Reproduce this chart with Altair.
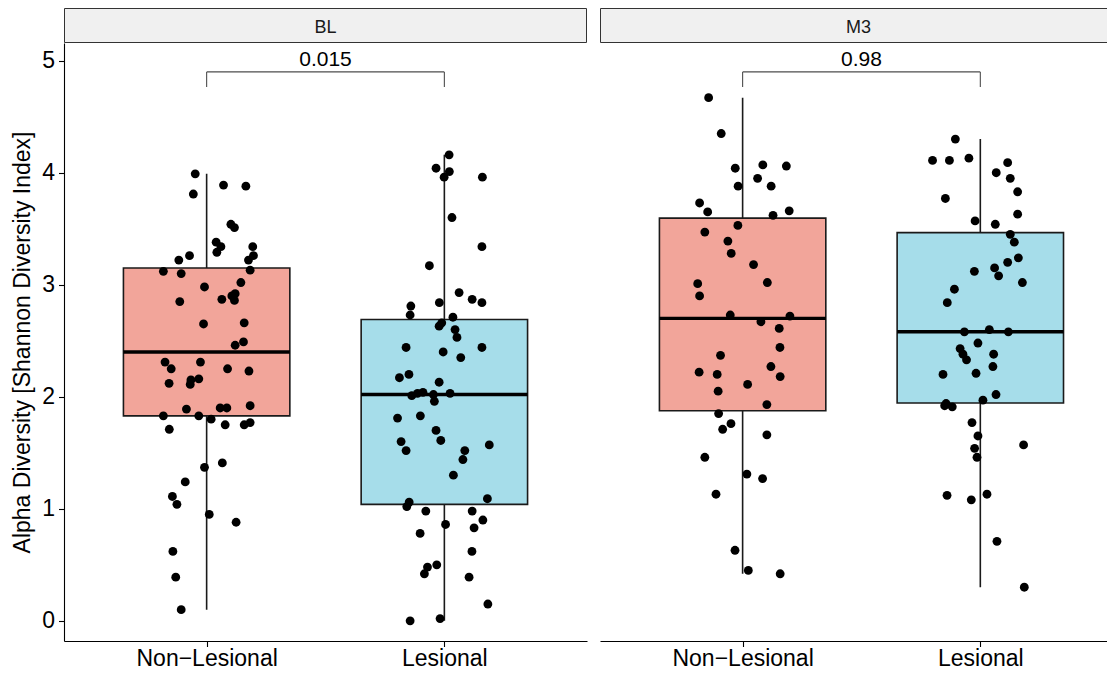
import altair as alt
import pandas as pd

FONT = "Liberation Sans"

TIMEPOINTS = ["BL", "M3"]
GROUPS = ["Non\u2212Lesional", "Lesional"]
GROUP_POS = [1, 2]
FILLS = ["#F2A59A", "#A6DDEA"]
P_VALUES = ["0.015", "0.98"]
Y_TICKS = [0, 1, 2, 3, 4, 5]

# ---- jittered sample values ----
BL_NL_VALUE = [3.99, 3.89, 3.88, 3.81, 3.54, 3.51, 3.38, 3.34, 3.29, 3.34,
               3.26, 3.22, 3.26, 3.22, 3.12, 3.10, 3.13, 3.02, 2.98, 2.92,
               2.90, 2.87, 2.86, 2.85, 2.65, 2.66, 2.49, 2.46, 2.31, 2.25,
               2.31, 2.25, 2.23, 2.12, 2.15, 2.16, 2.11, 1.83, 1.89, 1.83,
               1.80, 1.90, 1.90, 1.92, 1.71, 1.75, 1.75, 1.77, 1.37, 1.41,
               1.24, 1.11, 1.04, 0.95, 0.88, 0.62, 0.39, 0.10]
BL_NL_JITTER = [-0.048, 0.071, 0.165, -0.056, 0.102, 0.117, 0.040, 0.060, 0.043, 0.194,
                0.197, 0.176, -0.072, -0.117, -0.182, -0.107, 0.183, 0.144, -0.009, 0.120,
                0.106, 0.064, 0.117, -0.113, -0.013, 0.158, 0.155, 0.120, -0.175, -0.149,
                -0.026, 0.088, 0.178, -0.158, -0.066, -0.033, -0.069, -0.182, -0.085, -0.033,
                0.019, 0.057, 0.085, 0.183, -0.157, 0.078, 0.158, 0.183, -0.009, 0.066,
                -0.090, -0.144, -0.125, 0.011, 0.124, -0.142, -0.130, -0.107]

BL_L_VALUE = [4.16, 4.04, 4.01, 3.96, 3.96, 3.60, 3.34, 3.17, 2.93, 2.87,
              2.84, 2.84, 2.81, 2.73, 2.71, 2.66, 2.63, 2.60, 2.53, 2.44,
              2.40, 2.44, 2.35, 2.17, 2.20, 2.13, 2.01, 2.03, 2.04, 2.02,
              1.96, 2.03, 1.81, 1.83, 1.70, 1.61, 1.60, 1.52, 1.52, 1.44,
              1.57, 1.30, 1.06, 1.02, 1.09, 0.98, 0.98, 0.90, 0.83, 0.86,
              0.78, 0.62, 0.48, 0.50, 0.42, 0.39, 0.15, 0.00, 0.02]
BL_L_JITTER = [0.020, -0.035, 0.021, -0.001, 0.160, 0.032, 0.158, -0.063, 0.062, 0.117,
               0.158, -0.021, -0.141, -0.144, 0.036, -0.011, -0.022, 0.045, 0.053, -0.161,
               -0.005, 0.158, 0.069, -0.189, -0.149, -0.022, -0.137, -0.113, -0.090, -0.046,
               -0.042, 0.024, -0.197, -0.101, -0.035, -0.015, -0.182, -0.161, 0.086, 0.078,
               0.189, 0.038, -0.148, -0.158, 0.181, -0.078, 0.117, 0.162, 0.125, 0.005,
               -0.102, 0.116, -0.071, -0.032, -0.084, 0.104, 0.183, -0.144, -0.018]

M3_NL_VALUE = [4.67, 4.35, 4.04, 4.07, 4.06, 3.95, 3.88, 3.88, 3.73, 3.65,
               3.66, 3.62, 3.53, 3.47, 3.39, 3.28, 3.18, 3.01, 3.02, 2.90,
               2.73, 2.72, 2.67, 2.61, 2.44, 2.37, 2.27, 2.22, 2.20, 2.18,
               2.11, 2.05, 1.93, 1.85, 1.76, 1.71, 1.66, 1.46, 1.31, 1.27,
               1.13, 0.63, 0.45, 0.42]
M3_NL_JITTER = [-0.143, -0.090, -0.031, 0.085, 0.184, 0.063, -0.019, 0.120, -0.181, -0.147,
                0.196, 0.128, -0.020, -0.159, -0.062, -0.048, 0.046, -0.189, 0.104, -0.181,
                -0.052, 0.199, 0.077, 0.154, 0.157, -0.093, 0.119, -0.183, -0.107, 0.158,
                0.021, -0.103, 0.102, -0.101, -0.049, -0.084, 0.102, -0.159, 0.018, 0.084,
                -0.112, -0.032, 0.024, 0.158]

M3_L_VALUE = [4.30, 4.11, 4.11, 4.13, 4.09, 4.00, 3.95, 3.83, 3.77, 3.63,
              3.57, 3.54, 3.45, 3.38, 3.24, 3.20, 3.15, 3.08, 3.12, 3.02,
              2.96, 2.84, 2.58, 2.60, 2.58, 2.48, 2.43, 2.38, 2.33, 2.38,
              2.27, 2.20, 2.21, 2.02, 1.97, 1.94, 1.92, 1.91, 1.77, 1.65,
              1.57, 1.54, 1.46, 1.12, 1.08, 1.13, 0.71, 0.30]
M3_L_JITTER = [-0.105, -0.201, -0.130, -0.048, 0.115, 0.067, 0.126, 0.157, -0.147, 0.157,
               -0.022, 0.063, 0.126, 0.143, 0.160, 0.115, 0.060, 0.077, -0.025, 0.177,
               -0.109, -0.139, -0.067, 0.038, 0.118, -0.010, -0.085, -0.073, -0.058, 0.056,
               0.053, -0.157, -0.018, 0.066, 0.011, -0.144, -0.150, -0.118, -0.035, -0.010,
               0.182, -0.024, -0.014, -0.140, -0.038, 0.028, 0.070, 0.185]

# ---- box summaries (BL-NL, BL-L, M3-NL, M3-L) ----
BOX_TIME = ["BL", "BL", "M3", "M3"]
BOX_GROUP = [GROUPS[0], GROUPS[1], GROUPS[0], GROUPS[1]]
BOX_LOWER = [0.10, 0.00, 0.42, 0.30]
BOX_Q1 = [1.83, 1.04, 1.875, 1.945]
BOX_MEDIAN = [2.40, 2.02, 2.70, 2.58]
BOX_Q3 = [3.15, 2.69, 3.595, 3.465]
BOX_UPPER = [3.99, 4.16, 4.67, 4.30]

# ---- significance brackets ----
BRACKET_Y = [4.90, 4.90]
BRACKET_END = [4.765, 4.765]
LABEL_Y = [4.95, 4.95]

# ---- layout / style ----
BOX_HALF = 0.35
Y_DOMAIN = [-0.18, 5.158]
PLOT_H = 598
STRIP_H = 35
WIDTHS = [523, 507]
X_DOMAINS = [[0.4, 2.6], [0.4, 0.4 + 507 / 237.7]]
STRIP_TEXT_X = [261.5, 258.5]
STRIP_OPEN_RIGHT = [False, True]
LABEL_SIZE = 23

# ---- build tables ----
rows = []
for t, g, vals, jit in [("BL", 0, BL_NL_VALUE, BL_NL_JITTER), ("BL", 1, BL_L_VALUE, BL_L_JITTER),
                        ("M3", 0, M3_NL_VALUE, M3_NL_JITTER), ("M3", 1, M3_L_VALUE, M3_L_JITTER)]:
    for v, j in zip(vals, jit):
        rows.append({"time": t, "group": GROUPS[g], "x": GROUP_POS[g] + j, "value": v})
pts = pd.DataFrame(rows)

box = pd.DataFrame({"time": BOX_TIME, "group": BOX_GROUP, "lower": BOX_LOWER, "q1": BOX_Q1,
                    "median": BOX_MEDIAN, "q3": BOX_Q3, "upper": BOX_UPPER})
box["pos"] = box["group"].map(dict(zip(GROUPS, GROUP_POS)))
box["x0"] = box["pos"] - BOX_HALF
box["x1"] = box["pos"] + BOX_HALF

label_expr = f"datum.value == {GROUP_POS[0]} ? '{GROUPS[0]}' : '{GROUPS[1]}'"

color_scale = alt.Scale(domain=GROUPS, range=FILLS)


def panel(i):
    t = TIMEPOINTS[i]
    w = WIDTHS[i]
    xs = alt.Scale(domain=X_DOMAINS[i], nice=False, zero=False)
    ys = alt.Scale(domain=Y_DOMAIN, nice=False, zero=False)
    xa = alt.Axis(values=GROUP_POS, labelExpr=label_expr, title=None, grid=False,
                  domainColor="black", domainWidth=1.1, tickColor="black", tickWidth=1.1,
                  tickSize=5.5, labelFont=FONT, labelFontSize=LABEL_SIZE, labelColor="black",
                  labelPadding=1, labelFlush=False, labelOverlap=False)
    if i == 0:
        ya = alt.Axis(values=Y_TICKS, title="Alpha Diversity [Shannon Diversity Index]",
                      titleFont=FONT, titleFontSize=LABEL_SIZE, titleFontWeight="normal",
                      titleColor="black", titlePadding=7, grid=False,
                      domainColor="black", domainWidth=1.1, tickColor="black",
                      tickWidth=1.1, tickSize=5.5, labelFont=FONT, labelFontSize=LABEL_SIZE,
                      labelColor="black", labelPadding=4, labelFlush=False)
    else:
        ya = None

    bx = box[box["time"] == t]
    pp = pts[pts["time"] == t]

    whisk = alt.Chart(bx).mark_rule(color="#1a1a1a", strokeWidth=1.6).encode(
        x=alt.X("pos:Q", scale=xs, axis=xa),
        y=alt.Y("lower:Q", scale=ys, axis=ya),
        y2="upper:Q")
    rect = alt.Chart(bx).mark_rect(stroke="#1a1a1a", strokeWidth=1.6).encode(
        x=alt.X("x0:Q", scale=xs, axis=xa), x2="x1:Q",
        y=alt.Y("q1:Q", scale=ys, axis=ya), y2="q3:Q",
        fill=alt.Fill("group:N", scale=color_scale, legend=None))
    med = alt.Chart(bx).mark_rule(color="black", strokeWidth=3.4).encode(
        x=alt.X("x0:Q", scale=xs, axis=xa), x2="x1:Q",
        y=alt.Y("median:Q", scale=ys, axis=ya))
    dots = alt.Chart(pp).mark_circle(color="black", size=78, opacity=1).encode(
        x=alt.X("x:Q", scale=xs, axis=xa),
        y=alt.Y("value:Q", scale=ys, axis=ya))

    br = pd.DataFrame({
        "x": [GROUP_POS[0], GROUP_POS[0], GROUP_POS[1]],
        "x2": [GROUP_POS[1], GROUP_POS[0], GROUP_POS[1]],
        "y": [BRACKET_Y[i], BRACKET_END[i], BRACKET_END[i]],
        "y2": [BRACKET_Y[i], BRACKET_Y[i], BRACKET_Y[i]],
    })
    bracket = alt.Chart(br).mark_rule(color="#4d4d4d", strokeWidth=1.1).encode(
        x=alt.X("x:Q", scale=xs, axis=xa), x2="x2:Q",
        y=alt.Y("y:Q", scale=ys, axis=ya), y2="y2:Q")
    lab = pd.DataFrame({"x": [sum(GROUP_POS) / 2], "y": [LABEL_Y[i]], "label": [P_VALUES[i]]})
    ptext = alt.Chart(lab).mark_text(font=FONT, fontSize=21, color="black",
                                     baseline="alphabetic", align="center").encode(
        x=alt.X("x:Q", scale=xs, axis=xa),
        y=alt.Y("y:Q", scale=ys, axis=ya),
        text="label:N")

    main = alt.layer(whisk, rect, med, dots, bracket, ptext).properties(width=w, height=PLOT_H)

    strip_df = pd.DataFrame({"label": [t]})
    right = w + 20 if STRIP_OPEN_RIGHT[i] else w - 0.5
    strip_bg = alt.Chart(strip_df).mark_rect(
        fill="#F0F0F0", stroke="#333333", strokeWidth=1, clip=True).encode(
        x=alt.value(0.5), x2=alt.value(right), y=alt.value(0.5), y2=alt.value(STRIP_H - 0.5))
    strip_txt = alt.Chart(strip_df).mark_text(
        font=FONT, fontSize=18, color="#1a1a1a", baseline="alphabetic", align="center").encode(
        x=alt.value(STRIP_TEXT_X[i]), y=alt.value(25), text="label:N")
    strip = alt.layer(strip_bg, strip_txt).properties(width=w, height=STRIP_H)

    return alt.vconcat(strip, main, spacing=0, bounds="flush")


chart = alt.hconcat(panel(0), panel(1), spacing=13).properties(
    padding={"left": 3, "top": 0, "right": 0, "bottom": 0}
).configure(font=FONT, view=alt.ViewConfig(stroke=None))

chart.save("out.html", embed_options={"renderer": "svg", "actions": False})
